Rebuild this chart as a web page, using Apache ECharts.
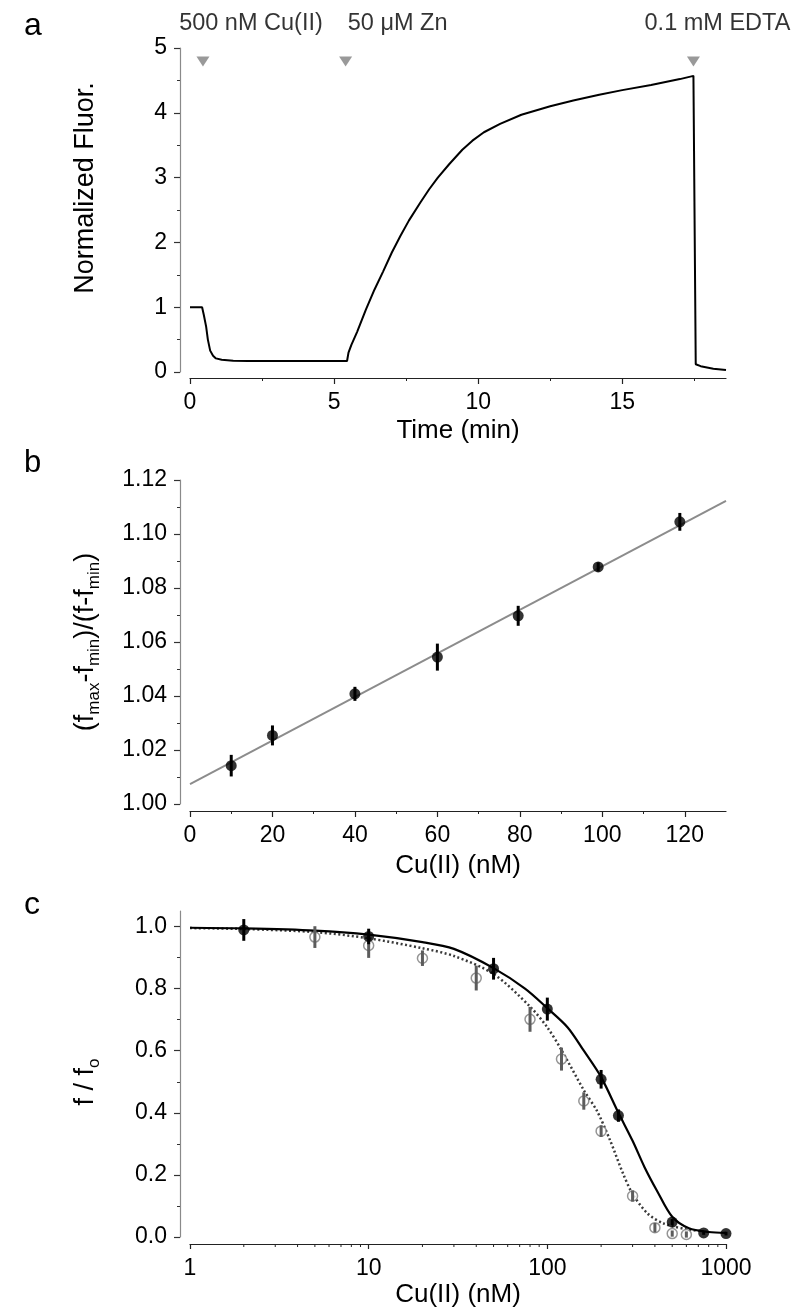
<!DOCTYPE html>
<html><head><meta charset="utf-8">
<script src="https://cdn.jsdelivr.net/npm/echarts@6/dist/echarts.min.js"></script>
<style>html,body{margin:0;padding:0;background:#fff}#c{width:800px;height:1314px}</style>
</head><body><div id="c"></div><script>
// ---------- Panel a: fluorescence trace ----------
const timeMin = [0, 0.2, 0.42, 0.46, 0.48, 0.52, 0.56, 0.62, 0.7, 0.8, 0.9, 1.1, 1.5, 2, 3, 4, 5, 5.45, 5.5, 5.6, 5.8, 6.1, 6.4, 6.7, 7.0, 7.3, 7.6, 8.0, 8.3, 8.6, 9.0, 9.45, 9.8, 10.2, 10.76, 11.5, 12.5, 13.3, 14.2, 15.0, 16.0, 17.0, 17.47, 17.55, 17.72, 18.16, 18.6];
const fluor   = [1.0, 1.0, 1.0, 0.99, 0.88, 0.85, 0.7, 0.5, 0.33, 0.25, 0.21, 0.19, 0.175, 0.17, 0.17, 0.17, 0.17, 0.17, 0.30, 0.42, 0.62, 0.96, 1.27, 1.55, 1.84, 2.10, 2.34, 2.62, 2.82, 3.00, 3.21, 3.43, 3.57, 3.70, 3.83, 3.97, 4.10, 4.19, 4.28, 4.35, 4.43, 4.52, 4.57, 0.12, 0.09, 0.05, 0.03];
const addTimes  = [0.45, 5.4, 17.47];
const addLabels = ['500 nM Cu(II)', '50 μM Zn', '0.1 mM EDTA'];
const addLevel  = 4.79;
const xTicksA = [0, 5, 10, 15];

// ---------- Panel b: linear calibration ----------
const cuB    = [10, 20, 40, 60, 79.6, 99, 118.8];
const ratioB = [1.0142, 1.0254, 1.0408, 1.0544, 1.0697, 1.0878, 1.1045];
const errB   = [0.004, 0.0037, 0.0026, 0.005, 0.0037, 0.0017, 0.0033];
const fitBX  = [0, 130];
const fitBY  = [1.0074, 1.1123];
const xTicksB = [0, 20, 40, 60, 80, 100, 120];

// ---------- Panel c: titration ----------
const cuFilled  = [2, 10, 50, 100, 200, 250, 500, 750, 1000];
const fFilled   = [0.989, 0.968, 0.864, 0.734, 0.508, 0.391, 0.048, 0.013, 0.011];
const errFilled = [0.035, 0.025, 0.035, 0.037, 0.03, 0.02, 0.01, 0.006, 0.006];
const cuOpen    = [5, 10, 20, 40, 80, 120, 160, 200, 300, 400, 500, 600];
const fOpen     = [0.966, 0.939, 0.898, 0.834, 0.701, 0.573, 0.438, 0.341, 0.132, 0.030, 0.011, 0.008];
const errOpen   = [0.035, 0.04, 0.025, 0.04, 0.04, 0.037, 0.028, 0.019, 0.018, 0.015, 0.01, 0.01];
const fitSolidX = [1, 2, 5, 10, 20, 30, 50, 75, 100, 130, 160, 200, 250, 300, 350, 410, 500, 620, 800, 1000];
const fitSolidY = [0.996, 0.994, 0.987, 0.974, 0.95, 0.928, 0.866, 0.80, 0.737, 0.675, 0.60, 0.515, 0.40, 0.31, 0.225, 0.15, 0.065, 0.028, 0.016, 0.013];
const fitDotX   = [1, 2, 5, 10, 20, 30, 50, 80, 100, 120, 160, 190, 225, 265, 300, 365, 450, 600, 750];
const fitDotY   = [0.995, 0.992, 0.982, 0.962, 0.93, 0.905, 0.847, 0.742, 0.675, 0.602, 0.473, 0.405, 0.31, 0.205, 0.139, 0.075, 0.043, 0.025, 0.018];
const yTicksC   = [0, 0.2, 0.4, 0.6, 0.8, 1.0];
const logMinorTicks = [2,3,4,5,6,7,8,9,20,30,40,50,60,70,80,90,200,300,400,500,600,700,800,900];

// ---------- styles ----------
const FONT = '"Liberation Sans", Arial, sans-serif';
const TXT = '#000';
const labelShift = [[48, 0], [52, 0], [24, 0]];
const TICKFS = 23;

const zip = (a, b) => a.map((v, i) => [v, b[i]]);
const errData = (xs, ys, es) => xs.map((x, i) => [x, ys[i] - es[i], ys[i] + es[i]]);

function errSeries(xi, data, color, z) {
  return {
    type: 'custom', xAxisIndex: xi, yAxisIndex: xi, z: z, silent: true,
    encode: { x: 0, y: [1, 2] }, data: data,
    renderItem: (p, api) => {
      const a = api.coord([api.value(0), api.value(1)]);
      const b = api.coord([api.value(0), api.value(2)]);
      return { type: 'line', shape: { x1: a[0], y1: a[1], x2: b[0], y2: b[1] },
               style: { stroke: color, lineWidth: 3 } };
    }
  };
}

function lbl(extra) {
  return Object.assign({ margin: 13, fontSize: TICKFS, color: TXT, fontFamily: FONT }, extra || {});
}
function xAxis(gi, o) {
  return Object.assign({
    gridIndex: gi, type: 'value', offset: 7,
    axisLine: { show: true, onZero: false, lineStyle: { color: '#222', width: 1.2 } },
    axisTick: { show: true, length: 6, lineStyle: { color: '#222', width: 1.2 } },
    minorTick: { show: true, splitNumber: 2, length: 3, lineStyle: { color: '#222', width: 1 } },
    splitLine: { show: false }, minorSplitLine: { show: false },
    axisLabel: lbl(),
    nameLocation: 'middle', nameGap: 42,
    nameTextStyle: { fontSize: 26, color: TXT, fontFamily: FONT }
  }, o);
}
function yAxis(gi, o, pad) {
  return Object.assign({
    gridIndex: gi, type: 'value', offset: 10,
    axisLine: { show: true, onZero: false, lineStyle: { color: '#8a8a8a', width: 1.2 } },
    axisTick: { show: true, length: 6, lineStyle: { color: '#333', width: 1.2 } },
    minorTick: { show: true, splitNumber: 2, length: 3, lineStyle: { color: '#333', width: 1 } },
    splitLine: { show: false }, minorSplitLine: { show: false },
    axisLabel: lbl(),
    nameLocation: 'middle', nameRotate: 90, nameGap: 77,
    nameTextStyle: { fontSize: 27, color: TXT, fontFamily: FONT, lineHeight: 34, padding: pad || 0,
      rich: { sub: { fontSize: 17, fontFamily: FONT, color: TXT, verticalAlign: 'bottom', lineHeight: 16 } } }
  }, o);
}

const chart = echarts.init(document.getElementById('c'), null, { renderer: 'canvas' });
chart.setOption({
  animation: false,
  backgroundColor: '#fff',
  grid: [
    { left: 190, top: 48,  width: 536, height: 324 },
    { left: 190, top: 480, width: 536, height: 324 },
    { left: 190, top: 911, width: 536, height: 326 }
  ],
  xAxis: [
    xAxis(0, { min: 0, max: 18.6, interval: 5, name: 'Time (min)', offset: 6, nameGap: 40,
      axisTick: { show: true, length: 6, customValues: xTicksA, lineStyle: { color: '#222', width: 1.2 } },
      axisLabel: lbl({ customValues: xTicksA }) }),
    xAxis(1, { min: 0, max: 130, interval: 20, name: 'Cu(II) (nM)',
      axisTick: { show: true, length: 6, customValues: xTicksB, lineStyle: { color: '#222', width: 1.2 } },
      axisLabel: lbl({ customValues: xTicksB }) }),
    xAxis(2, { type: 'log', logBase: 10, min: 1, max: 1000, name: 'Cu(II) (nM)', nameGap: 38,
      minorTick: { show: false },
      axisTick: { show: true, length: 5, lineStyle: { color: '#222', width: 1.2 } },
      axisLabel: lbl({ formatter: v => String(Math.round(v)) }) })
  ],
  yAxis: [
    yAxis(0, { min: 0, max: 5, interval: 1, name: 'Normalized Fluor.' }, [0, 0, 0, 44]),
    yAxis(1, { min: 1.0, max: 1.12, interval: 0.02,
      name: '(f{sub|max}-f{sub|min})/(f-f{sub|min})',
      axisLabel: lbl({ formatter: v => v.toFixed(2) }) }, [0, 0, 0, 0]),
    yAxis(2, { min: 0, max: 1.05, interval: 0.2, name: 'f / f{sub|o}',
      axisTick: { show: true, length: 6, customValues: yTicksC, lineStyle: { color: '#333', width: 1.2 } },
      axisLabel: lbl({ customValues: yTicksC,
        formatter: v => (Math.abs(v / 0.2 - Math.round(v / 0.2)) < 1e-6 ? v.toFixed(1) : '') }) }, [0, 16, 0, 0])
  ],
  graphic: [
    { type: 'text', x: 24, y: 26,  style: { text: 'a', fontSize: 32, fontFamily: FONT, fill: TXT, verticalAlign: 'middle' } },
    { type: 'text', x: 24, y: 463, style: { text: 'b', fontSize: 31, fontFamily: FONT, fill: TXT, verticalAlign: 'middle' } },
    { type: 'text', x: 24, y: 905, style: { text: 'c', fontSize: 32, fontFamily: FONT, fill: TXT, verticalAlign: 'middle' } }
  ],
  series: [
    // panel a
    { type: 'line', xAxisIndex: 0, yAxisIndex: 0, data: zip(timeMin, fluor), showSymbol: false,
      lineStyle: { color: '#000', width: 2 }, z: 2 },
    { type: 'scatter', xAxisIndex: 0, yAxisIndex: 0, symbol: 'triangle', symbolRotate: 180,
      symbolSize: [13, 10], itemStyle: { color: '#7f7f7f' }, z: 3,
      data: addTimes.map((t, i) => ({ name: addLabels[i], value: [t, addLevel],
        label: { offset: labelShift[i] } })),
      label: { show: true, position: 'top', distance: 21, formatter: '{b}',
        fontSize: 23.5, color: TXT, fontFamily: FONT } },
    // panel b
    { type: 'line', xAxisIndex: 1, yAxisIndex: 1, data: zip(fitBX, fitBY), showSymbol: false,
      lineStyle: { color: '#8c8c8c', width: 2 }, z: 1 },
    errSeries(1, errData(cuB, ratioB, errB), '#000', 3),
    { type: 'scatter', xAxisIndex: 1, yAxisIndex: 1, data: zip(cuB, ratioB), symbol: 'circle',
      symbolSize: 11, itemStyle: { color: '#000' }, z: 4 },
    // panel c
    { type: 'line', xAxisIndex: 2, yAxisIndex: 2, data: zip(fitDotX, fitDotY), showSymbol: false,
      smooth: 0.3, lineStyle: { color: '#3a3a3a', width: 2.5, type: [2, 2.5] }, z: 1 },
    { type: 'line', xAxisIndex: 2, yAxisIndex: 2, data: zip(fitSolidX, fitSolidY), showSymbol: false,
      smooth: 0.3, lineStyle: { color: '#000', width: 2.2 }, z: 1 },
    { type: 'scatter', xAxisIndex: 2, yAxisIndex: 2, data: zip(cuOpen, fOpen), symbol: 'circle',
      symbolSize: 10, itemStyle: { color: '#fff', borderColor: '#7a7a7a', borderWidth: 1.5 }, z: 2 },
    errSeries(2, errData(cuOpen, fOpen, errOpen), '#5c5c5c', 3),
    errSeries(2, errData(cuFilled, fFilled, errFilled), '#000', 4),
    { type: 'scatter', xAxisIndex: 2, yAxisIndex: 2, data: zip(cuFilled, fFilled), symbol: 'circle',
      symbolSize: 11, itemStyle: { color: '#000' }, z: 5 },
    // log-axis minor ticks (2..9 per decade), placed via the log scale
    { type: 'custom', xAxisIndex: 2, yAxisIndex: 2, silent: true, z: 6,
      data: logMinorTicks.map(v => [v, 0]),
      renderItem: (p, api) => {
        const c = api.coord([api.value(0), 0]);
        return { type: 'line', shape: { x1: c[0], y1: c[1] + 7, x2: c[0], y2: c[1] + 10 },
                 style: { stroke: '#222', lineWidth: 1 } };
      } }
  ]
});
</script></body></html>
